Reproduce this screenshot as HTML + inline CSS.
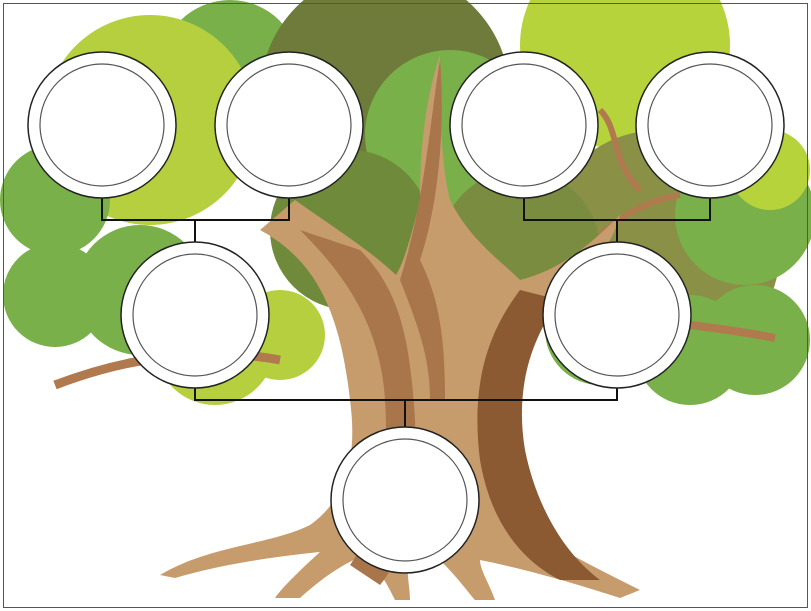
<!DOCTYPE html>
<html><head><meta charset="utf-8"><style>
html,body{margin:0;padding:0;background:#fff;}
svg{display:block;}
</style></head><body>
<svg width="811" height="611" viewBox="0 0 811 611" xmlns="http://www.w3.org/2000/svg">
<rect x="0" y="0" width="811" height="611" fill="#fff"/>
<!-- foliage back -->
<circle cx="230" cy="70" r="70" fill="#79b04a"/>
<circle cx="385" cy="95" r="125" fill="#6f7b3a"/>
<circle cx="625" cy="45" r="105" fill="#b6d33c"/>
<circle cx="660" cy="250" r="120" fill="#8a9146"/>
<circle cx="745" cy="215" r="70" fill="#79b04a"/>
<circle cx="770" cy="170" r="40" fill="#b6d33c"/>
<circle cx="755" cy="340" r="55" fill="#79b04a"/>
<circle cx="690" cy="350" r="55" fill="#79b04a"/>
<circle cx="600" cy="330" r="55" fill="#79b04a"/>
<circle cx="450" cy="135" r="85" fill="#79b04a"/>
<circle cx="350" cy="230" r="80" fill="#6f8a3a"/>
<circle cx="520" cy="250" r="80" fill="#7a8c40"/>
<circle cx="150" cy="120" r="105" fill="#b5cf3f"/>
<circle cx="55" cy="200" r="55" fill="#79b04a"/>
<circle cx="55" cy="295" r="52" fill="#79b04a"/>
<circle cx="140" cy="290" r="65" fill="#79b04a"/>
<circle cx="215" cy="345" r="60" fill="#b5cf3f"/>
<circle cx="280" cy="335" r="45" fill="#b5cf3f"/>
<!-- branches -->
<path d="M55,385 C120,360 200,345 280,360" stroke="#b07a4e" stroke-width="9" fill="none"/>
<path d="M690,325 C730,330 760,335 775,338" stroke="#b07a4e" stroke-width="8" fill="none"/>
<path d="M600,110 C620,130 610,160 640,190" stroke="#b07a4e" stroke-width="6" fill="none"/>
<path d="M600,235 C630,210 650,200 680,195" stroke="#b07a4e" stroke-width="6" fill="none"/>
<!-- trunk -->
<path d="M260,230 C315,260 340,310 350,400 C358,460 345,500 310,525 C270,545 210,545 160,575 L175,578 C230,562 290,555 320,552 C300,570 280,590 275,598 L300,598 C320,580 340,565 365,555 C380,570 390,590 395,600 L410,600 C410,585 405,570 410,560 L440,560 C460,580 470,595 475,600 L495,600 C490,585 480,570 480,560 C530,570 580,585 620,598 L640,590 C600,570 560,550 530,530 C510,500 500,460 505,420 C510,380 520,340 560,300 C600,265 615,235 620,215 C590,245 560,270 520,280 C500,260 470,240 450,200 C440,160 440,100 440,55 C425,100 420,150 420,200 C408,250 402,265 396,275 C370,250 330,225 295,200 Z" fill="#c69c6d"/>
<path d="M300,230 C340,270 380,320 385,400 C390,470 375,530 350,565 L380,585 C405,555 418,500 415,420 C410,340 400,290 360,250 Z" fill="#a8764a"/>
<path d="M520,290 C490,330 470,380 480,460 C490,520 520,560 560,580 L600,580 C560,550 535,500 525,450 C515,390 530,340 560,300 Z" fill="#8b5a33"/>
<path d="M440,60 C430,120 425,200 400,280 C420,330 430,360 430,400 L445,400 C445,340 440,300 420,260 C440,200 445,120 440,60 Z" fill="#a8764a"/>
<!-- connectors -->
<g stroke="#111" stroke-width="2" fill="none">
<path d="M102,198 V220 H289 V198"/>
<path d="M195,220 V242"/>
<path d="M524,198 V220 H710 V198"/>
<path d="M617,220 V242"/>
<path d="M195,388 V400 H617 V388"/>
<path d="M405,400 V428"/>
</g>
<!-- ovals -->
<g fill="#fff" stroke="#222" stroke-width="1.5">
<ellipse cx="102" cy="125" rx="74" ry="73"/>
<ellipse cx="289" cy="125" rx="74" ry="73"/>
<ellipse cx="524" cy="125" rx="74" ry="73"/>
<ellipse cx="710" cy="125" rx="74" ry="73"/>
<ellipse cx="195" cy="315" rx="74" ry="73"/>
<ellipse cx="617" cy="315" rx="74" ry="73"/>
<ellipse cx="405" cy="500" rx="74" ry="73"/>
</g>
<g fill="none" stroke="#555" stroke-width="1.2">
<ellipse cx="102" cy="125" rx="62" ry="61"/>
<ellipse cx="289" cy="125" rx="62" ry="61"/>
<ellipse cx="524" cy="125" rx="62" ry="61"/>
<ellipse cx="710" cy="125" rx="62" ry="61"/>
<ellipse cx="195" cy="315" rx="62" ry="61"/>
<ellipse cx="617" cy="315" rx="62" ry="61"/>
<ellipse cx="405" cy="500" rx="62" ry="61"/>
</g>
<rect x="3.5" y="3.5" width="804" height="604" fill="none" stroke="#555" stroke-width="1"/>
</svg>
</body></html>
